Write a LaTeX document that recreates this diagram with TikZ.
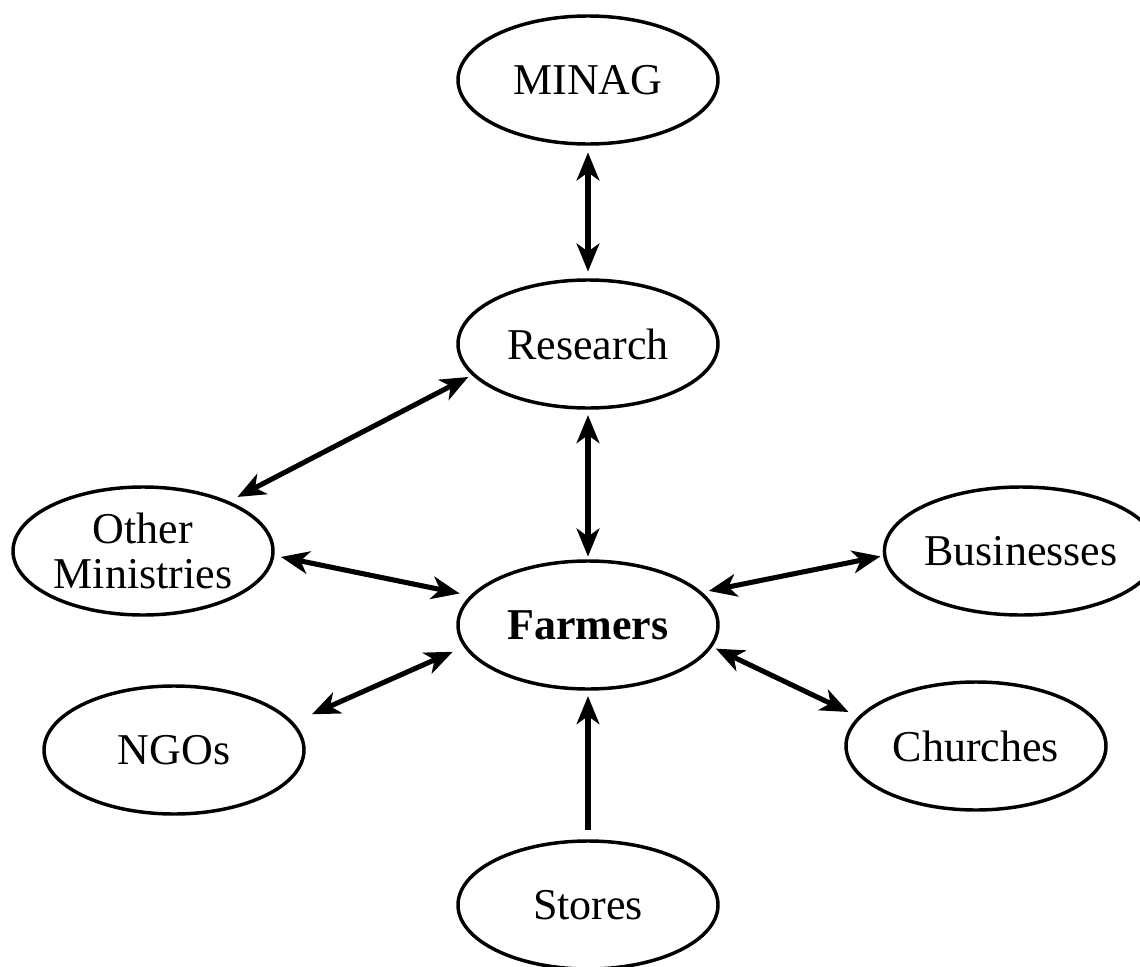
\documentclass[tikz,border=0pt]{standalone}
\usepackage{fontspec}
\setmainfont{Liberation Serif}
\usetikzlibrary{arrows.meta,shapes.geometric}

\tikzset{every picture/.style={line width=0.75pt}}
\tikzset{
	agent/.style={ellipse, draw, line width=2.6pt, minimum width=195pt, minimum height=96pt, inner sep=0pt, align=center, font=\fontsize{33}{34}\selectfont},
	link/.style={line width=3.8pt, >={Stealth[length=21pt,width=17pt,inset=6pt]}, <->},
	oneway/.style={line width=3.8pt, >={Stealth[length=21pt,width=17pt,inset=6pt]}, ->}
}

\begin{document}
\begin{tikzpicture}[x=0.75pt,y=0.75pt,yscale=-1,xscale=1]
	\useasboundingbox (0,0) rectangle (1140,967);
	%Shape: Ellipse
	\draw (588,80) node [agent] (minag) {MINAG};
	%Shape: Ellipse
	\draw (588,344) node [agent] (research) {Research};
	%Shape: Ellipse
	\draw (143,551) node [agent] (othmin) {Other\\Ministries};
	%Shape: Ellipse
	\draw (588,625) node [agent] (farmers) {\textbf{Farmers}};
	%Shape: Ellipse
	\draw (1021,551) node [agent] (business) {Businesses};
	%Shape: Ellipse
	\draw (174,750) node [agent] (ngos) {NGOs};
	%Shape: Ellipse
	\draw (976,746) node [agent] (churches) {Churches};
	%Shape: Ellipse
	\draw (588,905) node [agent] (stores) {Stores};
	
	%Straight Lines
	\draw [link, shorten <=5pt, shorten >=5pt] (minag.south) -- (research.north);
	%Straight Lines
	\draw [link, shorten <=4pt, shorten >=2pt] (research.south) -- (farmers.north);
	%Straight Lines
	\draw [link, shorten <=3pt, shorten >=7pt] (research.195) -- (othmin.30);
	%Straight Lines
	\draw [link, shorten <=5pt, shorten >=8pt] (othmin.358) -- (farmers.166);
	%Straight Lines
	\draw [link, shorten <=15pt, shorten >=9pt] (ngos.13) -- (farmers.190);
	%Straight Lines
	\draw [link, shorten <=5pt, shorten >=2pt] (farmers.16) -- (business.182);
	%Straight Lines
	\draw [link, shorten <=3pt, shorten >=8pt] (farmers.350) -- (churches.166);
	%Straight Lines
	\draw [oneway, shorten <=7pt, shorten >=4pt] (stores.north) -- (farmers.south);
\end{tikzpicture}
\end{document}
